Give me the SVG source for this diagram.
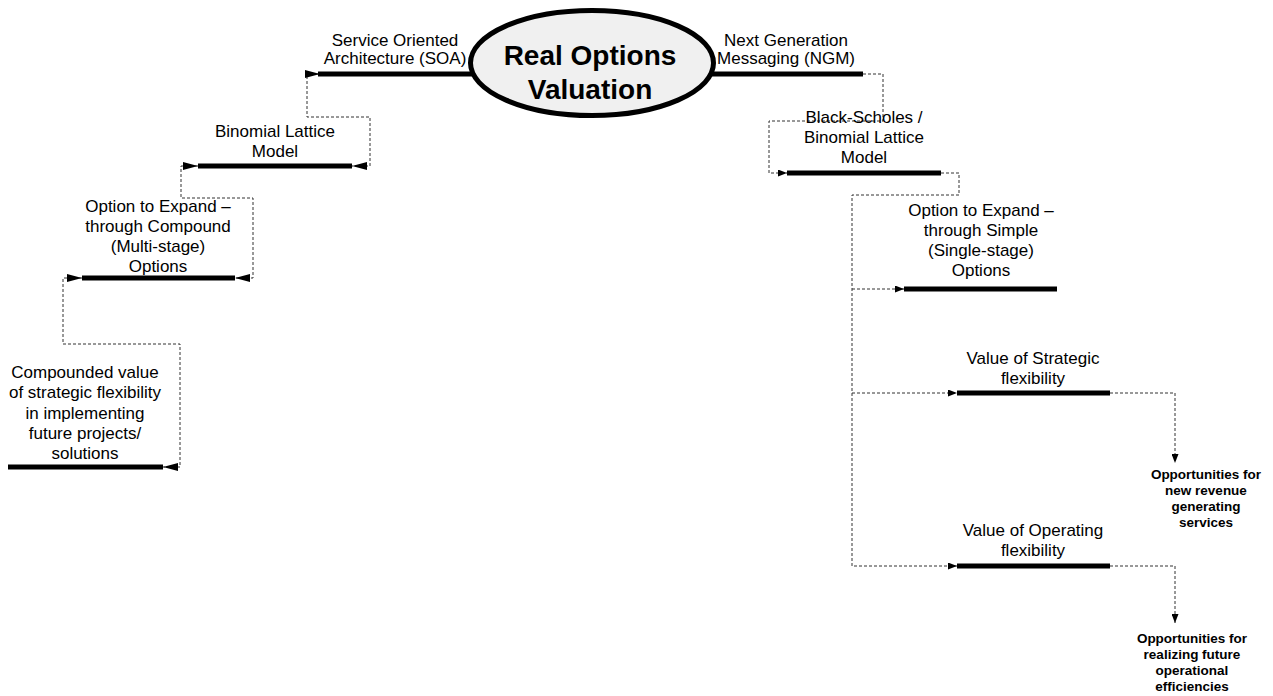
<svg xmlns="http://www.w3.org/2000/svg" width="1273" height="696" viewBox="0 0 1273 696">
<style>
.t{font-family:"Liberation Sans",Arial,sans-serif;font-size:17px;fill:#000;text-anchor:middle}
.b{font-family:"Liberation Sans",Arial,sans-serif;font-size:13.5px;font-weight:bold;fill:#000;text-anchor:middle}
.h{font-family:"Liberation Sans",Arial,sans-serif;font-size:28px;font-weight:bold;fill:#000;text-anchor:middle}
.bar{stroke:#000;stroke-width:5;fill:none}
.d{stroke:#333;stroke-width:1;stroke-dasharray:3 2;fill:none}
.dl{marker-start:url(#big);marker-end:url(#big)}
.dr{marker-end:url(#small)}
</style>
<defs>
<marker id="big" viewBox="0 0 15 8" refX="15" refY="4" markerWidth="15" markerHeight="8" orient="auto-start-reverse" markerUnits="userSpaceOnUse"><path d="M0,0 L15,4 L0,8 z" fill="#000"/></marker>
<marker id="small" viewBox="0 0 9 7" refX="9" refY="3.5" markerWidth="9" markerHeight="7" orient="auto" markerUnits="userSpaceOnUse"><path d="M0,0 L9,3.5 L0,7 z" fill="#000"/></marker>
</defs>
<rect width="1273" height="696" fill="#fff"/>
<g id="connectors">
<path class="d dl" d="M320 74 H307 V117 H370 V166 H352"/>
<path class="d dl" d="M198 166 H181 V198 H253 V278 H235"/>
<path class="d dl" d="M82 278 H63 V344 H180 V467 H163"/>
<path class="d dr" d="M863 74 H883 V121 H769 V173 H787"/>
<path class="d dr" d="M941 173 H959 V195 H852 V566 H957"/>
<path class="d dr" d="M852 289 H904"/>
<path class="d dr" d="M852 393 H957"/>
<path class="d dr" d="M1110 393 H1175 V463"/>
<path class="d dr" d="M1110 566 H1175 V623"/>
</g>
<g id="soa">
<line class="bar" x1="318" y1="74" x2="472" y2="74"/>
<text class="t" x="395" y="46">Service Oriented</text>
<text class="t" x="395" y="64">Architecture (SOA)</text>
</g>
<g id="ngm">
<line class="bar" x1="712" y1="74" x2="863" y2="74"/>
<text class="t" x="786" y="46">Next Generation</text>
<text class="t" x="786" y="64">Messaging (NGM)</text>
</g>
<g id="center">
<ellipse cx="592" cy="63" rx="121.5" ry="52.5" fill="#f0f0f0" stroke="#000" stroke-width="5"/>
<text class="h" x="590" y="65">Real Options</text>
<text class="h" x="590" y="99">Valuation</text>
</g>
<g id="binomial">
<line class="bar" x1="198" y1="166" x2="352" y2="166"/>
<text class="t" x="275" y="137">Binomial Lattice</text>
<text class="t" x="275" y="157">Model</text>
</g>
<g id="compound">
<line class="bar" x1="82" y1="278" x2="235" y2="278"/>
<text class="t" x="158" y="212">Option to Expand –</text>
<text class="t" x="158" y="232">through Compound</text>
<text class="t" x="158" y="252">(Multi-stage)</text>
<text class="t" x="158" y="272">Options</text>
</g>
<g id="compounded">
<line class="bar" x1="8" y1="467" x2="163" y2="467"/>
<text class="t" x="85" y="378">Compounded value</text>
<text class="t" x="85" y="398">of strategic flexibility</text>
<text class="t" x="85" y="419">in implementing</text>
<text class="t" x="85" y="439">future projects/</text>
<text class="t" x="85" y="459">solutions</text>
</g>
<g id="blackscholes">
<line class="bar" x1="787" y1="173" x2="941" y2="173"/>
<text class="t" x="864" y="123">Black-Scholes /</text>
<text class="t" x="864" y="143">Binomial Lattice</text>
<text class="t" x="864" y="163">Model</text>
</g>
<g id="simple">
<line class="bar" x1="904" y1="289" x2="1057" y2="289"/>
<text class="t" x="981" y="216">Option to Expand –</text>
<text class="t" x="981" y="236">through Simple</text>
<text class="t" x="981" y="256">(Single-stage)</text>
<text class="t" x="981" y="276">Options</text>
</g>
<g id="strategic">
<line class="bar" x1="957" y1="393" x2="1110" y2="393"/>
<text class="t" x="1033" y="364">Value of Strategic</text>
<text class="t" x="1033" y="384">flexibility</text>
</g>
<g id="operating">
<line class="bar" x1="957" y1="566" x2="1110" y2="566"/>
<text class="t" x="1033" y="536">Value of Operating</text>
<text class="t" x="1033" y="556">flexibility</text>
</g>
<g id="revenue">
<text class="b" x="1206" y="479">Opportunities for</text>
<text class="b" x="1206" y="495">new revenue</text>
<text class="b" x="1206" y="511">generating</text>
<text class="b" x="1206" y="527">services</text>
</g>
<g id="efficiencies">
<text class="b" x="1192" y="643">Opportunities for</text>
<text class="b" x="1192" y="659">realizing future</text>
<text class="b" x="1192" y="675">operational</text>
<text class="b" x="1192" y="691">efficiencies</text>
</g>
</svg>
